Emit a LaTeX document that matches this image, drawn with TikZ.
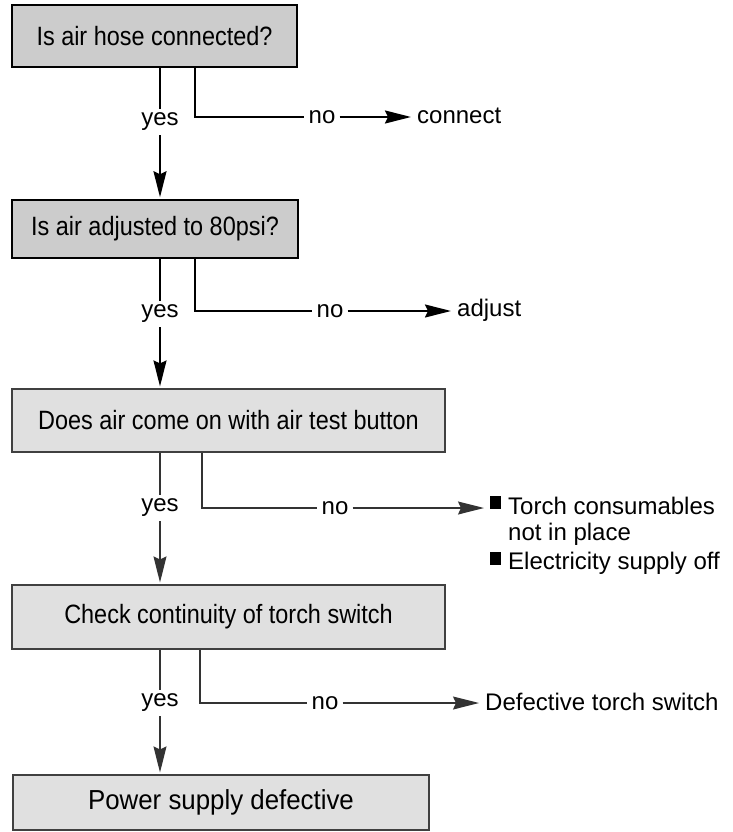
\documentclass[tikz,border=0pt]{standalone}
\usepackage{fontspec}
\setmainfont{Liberation Sans}
\newfontfamily\boxfont{Liberation Sans}[FakeStretch=0.885]
\newfontfamily\psufont{Liberation Sans}[FakeStretch=0.94]
\usetikzlibrary{arrows.meta,positioning}
\newcommand{\sqbullet}{\rule[5pt]{11pt}{13pt}\hspace{7pt}}
\tikzset{
  qbox/.style={rectangle, draw=black, line width=1.5pt, fill=black!20,
               inner sep=0pt, font=\boxfont\fontsize{26.5}{30}\selectfont},
  cbox/.style={qbox, draw=black!75, line width=1.1pt, fill=black!12},
  lbl/.style={inner sep=4pt, font=\fontsize{24}{26}\selectfont},
  link/.style={line width=1.8pt},
  flow/.style={-{Stealth[length=26pt, width=13pt, inset=3pt]}, line width=1.8pt, shorten >=2pt},
  thinlink/.style={line width=1.3pt, draw=black!80},
  thinflow/.style={flow, line width=1.3pt, draw=black!80},
}

\begin{document}
\begin{tikzpicture}[x=1pt, y=-1pt]
    \useasboundingbox (0,0) rectangle (733,832);
    % decision boxes
    \node[qbox, minimum width=285pt, minimum height=62pt] (hose) at (154.5,36) {Is air hose connected?};
    \node[qbox, minimum width=286pt, minimum height=58pt] (press) at (155,229) {Is air adjusted to 80psi?};
    \node[cbox, minimum width=433pt, minimum height=63pt] (test) at (228.5,420.5) {Does air come on with air test button};
    \node[cbox, minimum width=433pt, minimum height=64pt] (switch) at (228.5,617) {Check continuity of torch switch};
    \node[cbox, minimum width=416pt, minimum height=55pt, font=\psufont\fontsize{27.5}{30}\selectfont] (psu) at (221,802.5) {Power supply defective};
    % yes / no labels
    \node[lbl] (yes1) at (160,122) {yes};
    \node[lbl] (yes2) at (160,314) {yes};
    \node[lbl] (yes3) at (160,508) {yes};
    \node[lbl] (yes4) at (160,703) {yes};
    \node[lbl] (no1) at (322,117) {no};
    \node[lbl] (no2) at (330,311) {no};
    \node[lbl] (no3) at (335,508) {no};
    \node[lbl] (no4) at (325,703) {no};
    % outcomes
    \node[lbl, anchor=west] (connect) at (413,116) {connect};
    \node[lbl, anchor=west] (adjust) at (453,310) {adjust};
    \node[lbl, anchor=north west, align=left] (cons) at (486,492) {\sqbullet Torch consumables\\\hphantom{\sqbullet}not in place};
    \node[lbl, anchor=north west, inner ysep=0pt] (elec) at ([yshift=-2pt]cons.south west) {\sqbullet Electricity supply off};
    \node[lbl, anchor=west] (faulty) at (481,702) {Defective torch switch};
    % yes branches
    \draw[link] (hose.south -| yes1) -- (yes1.north);
    \draw[flow] (yes1.south) -- (press.north -| yes1);
    \draw[link] (press.south -| yes2) -- (yes2.north);
    \draw[flow] (yes2.south) -- (test.north -| yes2);
    \draw[thinlink] (test.south -| yes3) -- (yes3.north);
    \draw[thinflow] (yes3.south) -- (switch.north -| yes3);
    \draw[thinlink] (switch.south -| yes4) -- (yes4.north);
    \draw[thinflow] (yes4.south) -- (psu.north -| yes4);
    % no branches
    \draw[link] ([xshift=35pt]hose.south -| yes1) |- (no1.west);
    \draw[flow] (no1.east) -- (no1.east -| connect.west);
    \draw[link] ([xshift=35pt]press.south -| yes2) |- (no2.west);
    \draw[flow] (no2.east) -- (no2.east -| adjust.west);
    \draw[thinlink] ([xshift=42pt]test.south -| yes3) |- (no3.west);
    \draw[thinflow] (no3.east) -- (no3.east -| cons.west);
    \draw[thinlink] ([xshift=40pt]switch.south -| yes4) |- (no4.west);
    \draw[thinflow] (no4.east) -- (no4.east -| faulty.west);
\end{tikzpicture}
\end{document}
